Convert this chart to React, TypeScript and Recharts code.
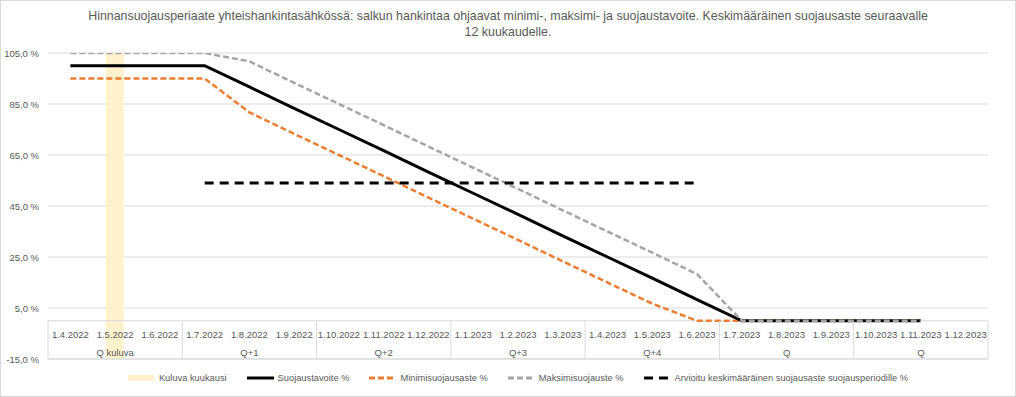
import React from 'react';
import { ComposedChart, Line, Bar, XAxis, YAxis, CartesianGrid, Legend, ReferenceLine } from 'recharts';

const months = [
  '1.4.2022', '1.5.2022', '1.6.2022', '1.7.2022', '1.8.2022', '1.9.2022', '1.10.2022',
  '1.11.2022', '1.12.2022', '1.1.2023', '1.2.2023', '1.3.2023', '1.4.2023', '1.5.2023',
  '1.6.2023', '1.7.2023', '1.8.2023', '1.9.2023', '1.10.2023', '1.11.2023', '1.12.2023',
];
const quarters = ['Q kuluva', 'Q+1', 'Q+2', 'Q+3', 'Q+4', 'Q', 'Q'];

const kuluva = [null, [-15, 105], null, null, null, null, null, null, null, null, null, null, null, null, null, null, null, null, null, null, null];
const tavoite = [100, 100, 100, 100, 91.7, 83.3, 75, 66.7, 58.3, 50, 41.7, 33.3, 25, 16.7, 8.3, 0, 0, 0, 0, 0, null];
const minimi = [95, 95, 95, 95, 81.7, 73.3, 65, 56.7, 48.3, 40, 31.7, 23.3, 15, 6.7, 0, 0, 0, 0, 0, 0, null];
const maksimi = [105, 105, 105, 105, 101.7, 93.3, 85, 76.7, 68.3, 60, 51.7, 43.3, 35, 26.7, 18.3, 0, 0, 0, 0, 0, null];
const arvioitu = [null, null, null, 54, 54, 54, 54, 54, 54, 54, 54, 54, 54, 54, 54, null, null, null, null, null, null];

const yTicks = [-15, 5, 25, 45, 65, 85, 105];

const data = months.map((m, i) => ({
  month: m,
  kuluva: kuluva[i],
  tavoite: tavoite[i],
  minimi: minimi[i],
  maksimi: maksimi[i],
  arvioitu: arvioitu[i],
}));

const GRID = '#d9d9d9';
const TEXT = '#595959';
const FONT = "'Liberation Sans', Arial, sans-serif";

const W = 1016;
const H = 397;
const PLOT_LEFT = 48;
const PLOT_RIGHT = 988;
const BAND = (PLOT_RIGHT - PLOT_LEFT) / months.length;

// legend entries in the reference order
const legendItems = [
  { name: 'Kuluva kuukausi', color: '#FFF2CC', type: 'rect', dash: undefined },
  { name: 'Suojaustavoite %', color: '#000', type: 'line', dash: undefined },
  { name: 'Minimisuojausaste %', color: '#ED7D31', type: 'line', dash: '6 3' },
  { name: 'Maksimisuojauste %', color: '#A5A5A5', type: 'line', dash: '6 3' },
  { name: 'Arvioitu keskimääräinen suojausaste suojausperiodille %', color: '#000', type: 'line', dash: '9 6' },
];

const MonthTick = (props: any) => {
  const { x, y, payload, index } = props;
  const left = x - BAND / 2;
  const top = y - 38;
  return (
    <g>
      <text x={x} y={y - 21} textAnchor="middle" fontSize={9.5} fill={TEXT} fontFamily={FONT}>
        {payload.value}
      </text>
      {index % 3 === 1 && (
        <text x={x} y={y - 3} textAnchor="middle" fontSize={9.5} fill={TEXT} fontFamily={FONT}>
          {quarters[Math.floor(index / 3)]}
        </text>
      )}
      {index % 3 === 0 && <line x1={left} x2={left} y1={top} y2={y} stroke={GRID} strokeWidth={1} />}
      {index === months.length - 1 && (
        <line x1={x + BAND / 2} x2={x + BAND / 2} y1={top} y2={y} stroke={GRID} strokeWidth={1} />
      )}
    </g>
  );
};

const fmt = (v: number) => `${v.toFixed(1).replace('.', ',')} %`;

const PercentTick = (props: any) => {
  const { x, y, payload } = props;
  return (
    <text x={x} y={y} dy={3.5} textAnchor="end" fontSize={9.5} fill={TEXT} fontFamily={FONT}>
      {fmt(payload.value)}
    </text>
  );
};

const LegendContent = () => (
  <div style={{ display: 'flex', justifyContent: 'center', fontFamily: FONT, fontSize: 9.3, color: TEXT, paddingLeft: 40 }}>
    {legendItems.map((it, i) => (
      <div key={i} style={{ display: 'flex', alignItems: 'center', marginRight: i === legendItems.length - 1 ? 0 : 20 }}>
        <svg width={28} height={10} style={{ marginRight: 3 }}>
          {it.type === 'rect' ? (
            <rect x={0} y={2} width={26} height={6} fill={it.color} />
          ) : (
            <line x1={0} x2={27} y1={5} y2={5} stroke={it.color} strokeWidth={3} strokeDasharray={it.dash} />
          )}
        </svg>
        <span>{it.name}</span>
      </div>
    ))}
  </div>
);

export default function App() {
  return (
    <div style={{ position: 'relative', width: W, height: H, background: '#fff' }}>
      <style>{'body{margin:0}'}</style>
      <div
        style={{
          position: 'absolute', inset: 0, border: `1px solid ${GRID}`, boxSizing: 'border-box', pointerEvents: 'none',
        }}
      />
      <div
        style={{
          position: 'absolute', top: 8, left: 0, width: W, textAlign: 'center', fontFamily: FONT,
          fontSize: 12.4, lineHeight: '16px', color: TEXT,
        }}
      >
        Hinnansuojausperiaate yhteishankintasähkössä: salkun hankintaa ohjaavat minimi-, maksimi- ja suojaustavoite. Keskimääräinen suojausaste seuraavalle
        <br />
        12 kuukaudelle.
      </div>
      <ComposedChart width={W} height={H} data={data} margin={{ top: 53, right: W - PLOT_RIGHT, left: 8, bottom: 15 }}>
        <CartesianGrid vertical={false} stroke={GRID} />
        <Bar dataKey="kuluva" name="Kuluva kuukausi" fill="#FFF2CC" barSize={18} isAnimationActive={false} />
        <ReferenceLine y={0} stroke={GRID} />
        <XAxis
          dataKey="month"
          interval={0}
          height={1}
          tickLine={false}
          tickSize={0}
          tickMargin={0}
          axisLine={{ stroke: GRID }}
          tick={<MonthTick />}
        />
        <YAxis
          domain={[-15, 105]}
          ticks={yTicks}
          width={40}
          tickLine={false}
          axisLine={false}
          tickSize={0}
          tickMargin={9}
          tick={<PercentTick />}
          allowDataOverflow
        />
        <Line dataKey="minimi" name="Minimisuojausaste %" stroke="#ED7D31" strokeWidth={2.5} strokeDasharray="6 3" dot={false} isAnimationActive={false} />
        <Line dataKey="tavoite" name="Suojaustavoite %" stroke="#000" strokeWidth={3} dot={false} isAnimationActive={false} />
        <Line dataKey="maksimi" name="Maksimisuojauste %" stroke="#A5A5A5" strokeWidth={2.5} strokeDasharray="6 3" dot={false} isAnimationActive={false} />
        <Line dataKey="arvioitu" name="Arvioitu keskimääräinen suojausaste suojausperiodille %" stroke="#000" strokeWidth={3} strokeDasharray="9 6" dot={false} isAnimationActive={false} />
        <Legend verticalAlign="bottom" height={22} wrapperStyle={{ bottom: 2 }} content={<LegendContent />} />
      </ComposedChart>
    </div>
  );
}
